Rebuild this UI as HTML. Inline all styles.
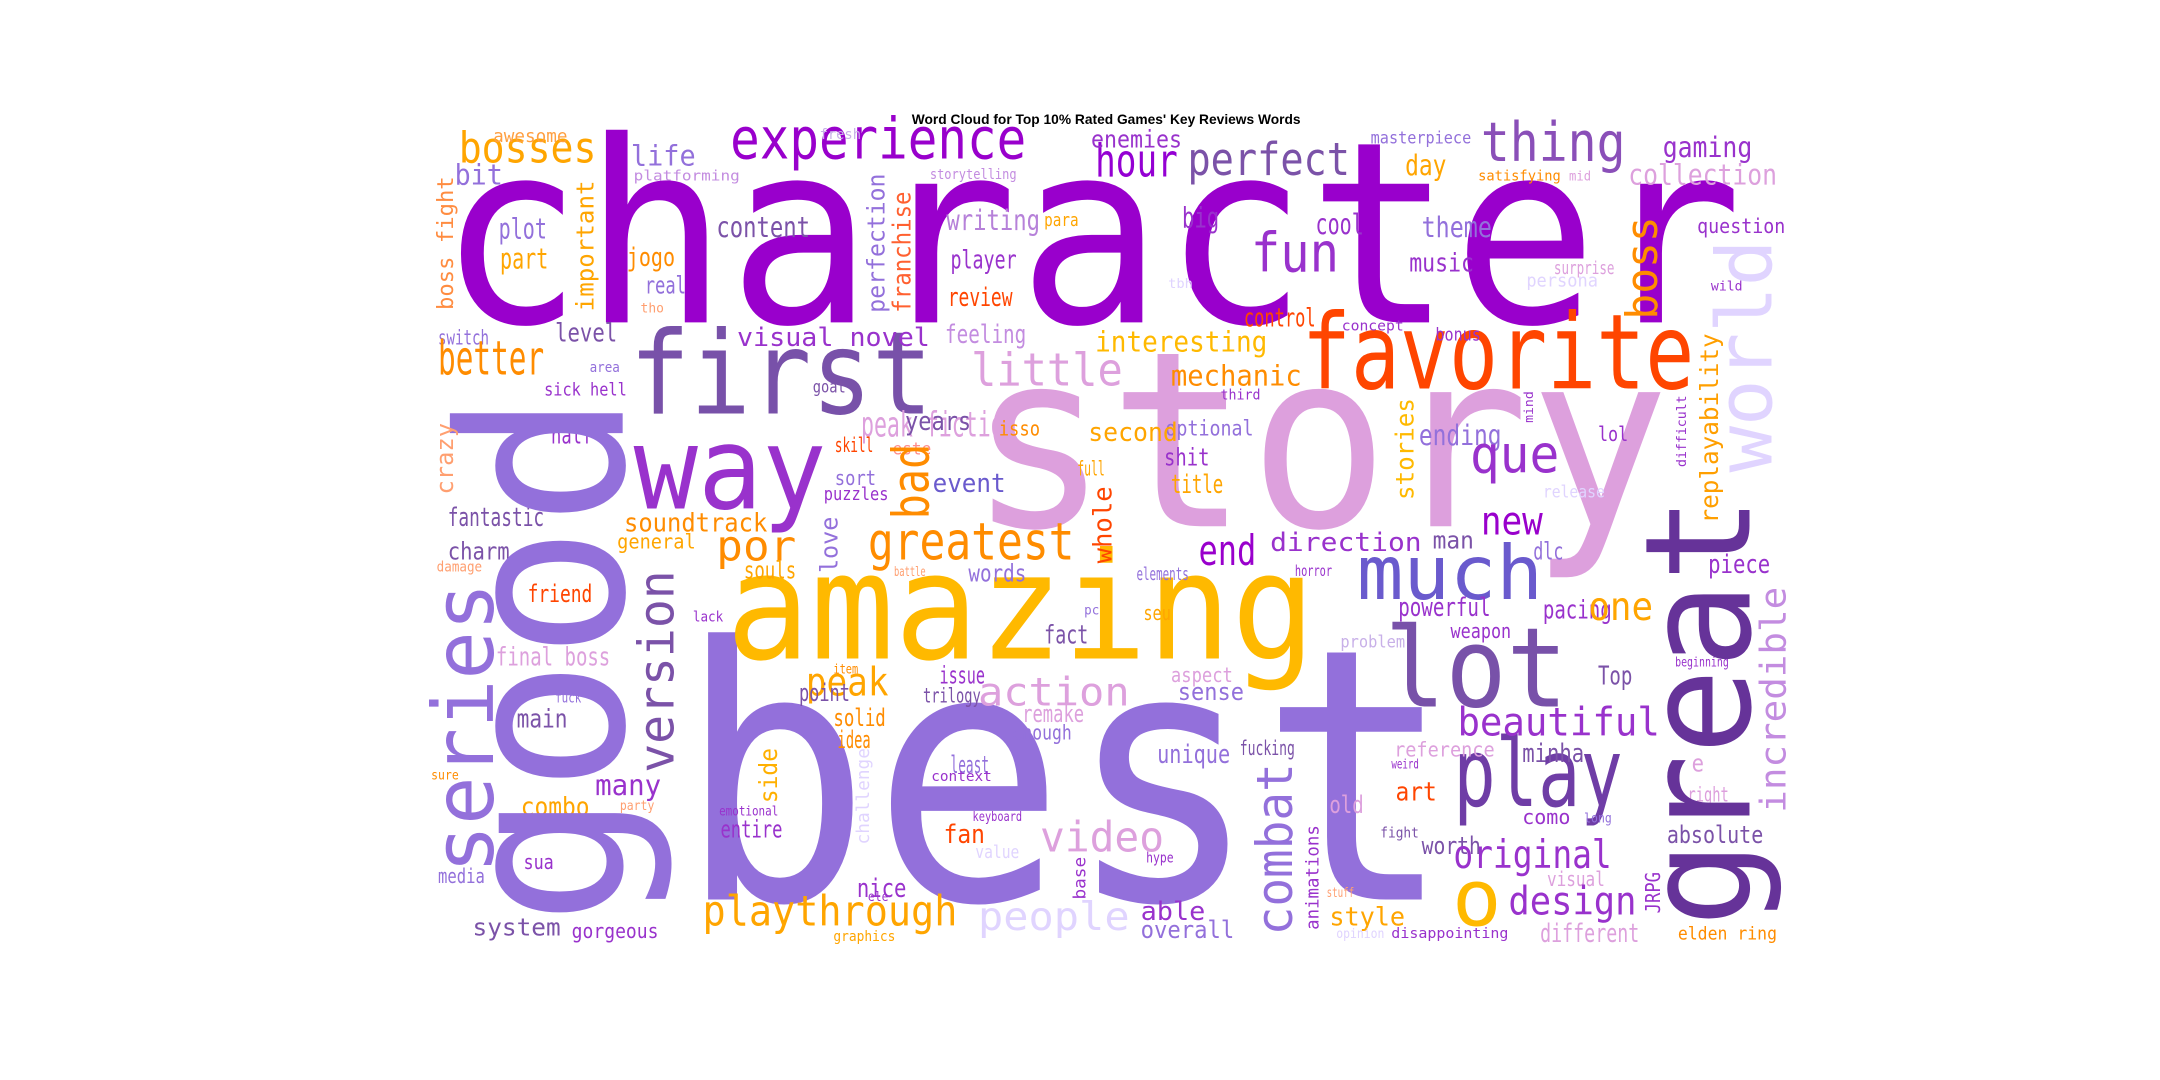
<!DOCTYPE html>
<html><head><meta charset="utf-8">
<style>
html,body{margin:0;padding:0;background:#fff;width:2160px;height:1080px;overflow:hidden}
svg{display:block}
text{font-family:"DejaVu Sans Mono","Liberation Mono",monospace}
</style></head>
<body>
<svg id="cloud" width="2160" height="1080" viewBox="0 0 1568 784" xmlns="http://www.w3.org/2000/svg">
<rect width="1568" height="784" fill="#fff"/>
<text x="803" y="90" text-anchor="middle" style="font-family:'Liberation Sans',sans-serif;font-weight:bold;font-size:10px" fill="#000">Word Cloud for Top 10% Rated Games' Key Reviews Words</text>
<g id="words"></g>
</svg>
<script>
const A='#9900cc',B='#9370db',C='#9932cc',D='#7b52a8',E='#dda0dd',F='#e0d4ff',G='#ffb900',H='#ffa500',I='#ff8c00',J='#ff4500',K='#c38ce0',L='#ff9f70',M='#6a5acd',N='#663399';
// horizontal words: text, x-left, x-right, baseline, font-size, colour
const hWords=[
['character',318,1265,234,214,A],['story',703,1212,382,207,E],['best',492,1055,653,297,B],
['amazing',527,955,478,125,G],['first',457,677,300,97,'#7851a9'],['favorite',945,1230,282,88,J],
['way',460,600,369,96,C],['lot',1005,1138,513,93,'#7851a9'],['much',985,1120,435,63,M],
['play',1055,1178,585,80,'#6f3da6'],
['experience',530,745,115,48,A],['hour',795,855,128,38,'#9400d3'],['perfect',862,980,127,38,D],
['thing',1075,1180,117,46,'#8a4fb8'],['bosses',333,433,118,36,H],['life',458,505,120,24,B],
['bit',330,365,134,24,B],['awesome',358,412,103,15,'#ff9f40'],['fresh',595,625,101,12,'#c8b0e8'],
['platforming',460,537,131,12,K],['storytelling',675,738,130,12,K],['enemies',792,858,107,20,C],
['masterpiece',995,1068,104,14,B],['gaming',1207,1272,114,24,C],['satisfying',1073,1133,131,12,I],
['mid',1139,1155,131,11,E],['collection',1182,1290,134,24,E],['day',1020,1050,127,24,H],
['plot',362,397,173,24,B],['content',520,588,172,24,D],['writing',687,755,167,24,'#b681d9'],
['big',858,885,165,24,C],['cool',955,990,170,24,C],['theme',1032,1083,172,24,B],
['question',1232,1296,169,17,C],['para',758,783,164,15,H],['part',363,398,195,24,H],
['jogo',455,490,193,22,I],['player',690,738,195,22,C],['fun',908,972,197,46,C],
['music',1023,1070,197,22,C],['surprise',1128,1172,199,15,E],['real',468,498,213,20,B],
['review',688,735,222,22,J],['control',903,955,237,22,J],['tbh',848,866,209,11,F],
['persona',1108,1160,208,15,F],['wild',1242,1265,211,11,C],['tho',465,482,227,11,L],
['feeling',686,745,249,22,K],['interesting',795,920,255,24,G],['switch',318,355,250,17,B],
['level',403,448,248,22,D],['visual novel',535,675,251,22,C],['concept',974,1019,240,12,C],
['bonus',1042,1075,247,15,C],['better',318,395,272,40,I],['little',705,815,280,38,E],
['mechanic',850,945,280,24,I],['area',428,450,270,12,B],['sick hell',395,455,287,15,C],
['goat',590,614,285,14,D],['third',886,915,290,12,C],['peak fiction',625,738,317,29,E],
['years',657,705,312,22,D],['optional',846,910,316,18,B],['ending',1030,1090,323,24,B],
['isso',725,755,316,17,I],['second',790,855,320,22,H],['half',400,430,322,20,C],
['skill',606,634,328,17,J],['este',648,676,330,14,'#ff8c8c'],['que',1067,1132,343,44,C],
['lol',1160,1182,320,17,C],['shit',845,878,338,20,C],['full',782,802,345,17,H],
['sort',606,636,352,17,B],['event',677,730,357,22,M],['title',850,888,358,22,H],
['puzzles',598,645,363,15,C],['release',1120,1165,361,14,F],['new',1075,1120,388,33,A],
['fantastic',325,395,382,22,D],['soundtrack',453,557,386,22,I],['por',520,578,407,35,I],
['greatest',630,780,406,44,I],['end',870,912,410,35,A],['direction',922,1032,400,22,C],
['man',1040,1070,398,20,D],['dlc',1113,1135,406,20,B],['piece',1240,1285,416,22,C],
['charm',325,370,406,20,D],['general',448,505,398,17,H],['damage',317,350,415,12,L],
['souls',540,578,420,20,H],['battle',649,672,418,11,L],['words',703,745,422,20,B],
['elements',825,863,421,15,B],['horror',940,967,418,13,C],['friend',383,430,437,20,J],
['lack',503,525,451,12,C],['pc',787,798,446,11,B],['seu',830,850,450,17,H],
['powerful',1015,1082,447,22,C],['pacing',1120,1170,449,22,C],['weapon',1053,1097,463,17,C],
['one',1153,1200,450,33,H],['fact',758,790,467,22,D],['problem',973,1020,470,14,'#c8b0e8'],
['final boss',360,443,483,22,E],['peak',585,645,505,33,H],['item',605,623,489,11,I],
['issue',682,715,496,20,C],['action',710,820,512,33,E],['aspect',850,895,495,17,E],
['beginning',1216,1255,484,11,C],['Top',1160,1185,497,22,D],['point',580,617,509,20,D],
['trilogy',670,712,510,17,D],['sense',855,903,508,20,B],['beautiful',1058,1205,534,33,C],
['main',375,412,528,22,D],['fuck',403,422,510,12,B],['solid',605,643,527,20,I],
['remake',742,787,524,20,E],['enough',735,778,537,17,B],['idea',608,632,543,20,I],
['unique',840,893,554,22,B],['fucking',900,940,548,17,D],['reference',1012,1085,549,17,E],
['minha',1105,1150,553,22,D],['least',690,718,561,20,B],['weird',1010,1030,558,11,C],
['e',1228,1237,560,20,E],['sure',313,333,566,11,I],['context',676,720,567,12,C],
['many',432,480,577,24,C],['party',450,475,588,11,L],['art',1013,1043,581,22,J],
['right',1225,1255,582,17,E],['combo',378,428,592,22,H],['emotional',522,565,592,11,C],
['keyboard',706,742,596,11,C],['entire',523,568,608,20,C],['video',755,845,618,35,E],
['fan',685,715,612,22,J],['old',965,990,590,20,E],['fight',1002,1030,608,12,D],
['como',1105,1140,598,17,C],['long',1150,1170,597,11,B],['absolute',1210,1280,612,20,D],
['worth',1032,1075,620,20,D],['original',1055,1170,630,33,C],['value',708,740,623,15,F],
['hype',832,852,626,12,C],['sua',380,402,631,17,C],['media',318,352,641,17,B],
['nice',622,658,651,22,C],['visual',1123,1165,643,17,E],['o',1054,1090,672,66,G],
['design',1095,1188,664,33,C],['ele',630,645,654,11,C],['playthrough',510,695,672,35,H],
['people',710,820,675,33,F],['able',828,875,668,22,C],['style',965,1020,672,22,H],
['system',343,407,679,20,D],['gorgeous',415,478,681,17,C],['graphics',605,650,683,12,H],
['overall',828,896,681,20,B],['stuff',963,983,651,11,L],['opinion',970,1005,681,11,F],
['disappointing',1010,1095,681,12,C],['different',1118,1190,684,22,E],['elden ring',1218,1290,682,15,I]
];
// vertical words (read bottom-to-top): text, baseline-x, y-bottom, y-top, font-size, colour
const vWords=[
['good',452,672,285,192,B],['great',1270,673,360,124,N],['series',358,634,423,71,B],
['world',1286,343,174,65,F],['version',489,561,414,41,D],['combat',938,679,554,42,B],
['boss',1203,232,157,37,I],['bad',674,377,322,43,I],['incredible',1296,590,426,30,K],
['replayability',1247,380,242,21,'#ff9f00'],['stories',1026,363,289,21,G],['important',431,226,131,20,H],
['boss fight',329,225,128,19,'#ff8c40'],['crazy',329,359,307,20,'#ff9f70'],['perfection',642,227,126,20,B],
['franchise',661,227,139,21,'#ff6030'],['whole',807,409,353,22,J],['love',608,416,375,20,B],
['side',564,583,543,21,'#ffb000'],['challenge',631,613,543,15,F],['animations',957,675,599,15,C],
['JRPG',1205,663,633,17,C],['difficult',1224,339,287,11,C],['mind',1113,307,284,10.5,C],
['base',788,653,622,14.5,C]
];
const SCALE=0.86;
const g=document.getElementById('words');
const NS='http://www.w3.org/2000/svg';
function slug(s){return s.toLowerCase().replace(/[^a-z0-9]+/g,'-');}
hWords.forEach(w=>{
  const t=document.createElementNS(NS,'text');
  t.setAttribute('x',w[1]);t.setAttribute('y',w[3]);
  t.setAttribute('font-size',(w[4]*SCALE).toFixed(1));t.setAttribute('fill',w[5]);
  t.setAttribute('textLength',w[2]-w[1]);t.setAttribute('lengthAdjust','spacingAndGlyphs');
  t.textContent=w[0];
  
  
  g.appendChild(t);
});
vWords.forEach(w=>{
  const t=document.createElementNS(NS,'text');
  t.setAttribute('x',0);t.setAttribute('y',0);
  t.setAttribute('transform','translate('+w[1]+','+w[2]+') rotate(-90)');
  t.setAttribute('font-size',(w[4]*SCALE).toFixed(1));t.setAttribute('fill',w[5]);
  t.setAttribute('textLength',w[2]-w[3]);t.setAttribute('lengthAdjust','spacingAndGlyphs');
  t.textContent=w[0];
  
  
  g.appendChild(t);
});
</script>
</body></html>
